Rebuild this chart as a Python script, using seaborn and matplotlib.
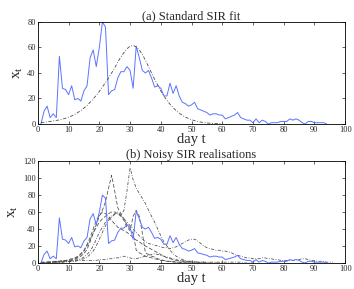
import matplotlib
matplotlib.use("Agg")
import matplotlib.pyplot as plt
import seaborn as sns
import pandas as pd

# observed cases per day (days 1..94)
observed = [0, 10, 14, 5, 8, 5, 53, 28, 27, 23,
            30, 19, 20, 18, 26, 30, 52, 58, 45, 60,
            80, 76, 23, 26, 27, 36, 41, 41, 45, 42,
            28, 61, 52, 42, 40, 42, 36, 29, 30, 28,
            22, 22, 32, 24, 30, 22, 17, 16, 14, 15,
            17, 12, 11, 10, 9, 7, 8, 8, 7, 7,
            4, 5, 6, 7, 9, 5, 4, 3, 3, 1,
            4, 1, 3, 2, 0, 1, 1, 1, 2, 2,
            2, 4, 3, 4, 3, 1, 0, 2, 2, 1,
            1, 1, 1, 0]

# standard SIR fit (days 1..60)
sir_fit = [1, 1.3, 1.7, 2, 2.4, 2.8, 3.2, 3.8, 4.5, 5.3,
           6.3, 7.5, 9, 10.5, 12.5, 14.5, 17, 19.5, 22.5, 25.5,
           29, 32.5, 36, 40, 44, 48.5, 52.5, 56, 59, 61,
           61.5, 60.5, 58, 54.5, 50, 45, 40, 35, 30.5, 26,
           22, 18.5, 15.5, 12.8, 10.5, 8.5, 6.8, 5.4, 4.3, 3.4,
           2.6, 2, 1.5, 1.1, 0.8, 0.6, 0.4, 0.3, 0.2, 0.1]

# noisy SIR realisations
real1 = [0, 0, 1, 1, 1, 1, 1, 2, 2, 3, 3, 4, 6, 8, 11, 16, 25, 35, 45, 55,
         62, 72, 88, 103, 85, 65, 58, 52, 45, 40, 35, 15, 12, 10, 8, 7, 6, 5, 4, 3,
         3, 2, 2, 2, 1, 1, 1, 1, 0, 0]
real2 = [0, 0, 0, 1, 1, 1, 1, 1, 2, 2, 2, 3, 4, 5, 7, 10, 14, 20, 28, 36,
         42, 48, 52, 55, 58, 60, 56, 62, 85, 112, 98, 88, 82, 76, 70, 62, 55, 48, 40, 32,
         25, 20, 15, 11, 8, 6, 4, 3, 2, 2, 1, 1, 1, 1, 0, 0, 0, 0, 0, 0]
real3 = [0, 1, 1, 1, 2, 2, 2, 3, 3, 3, 4, 5, 7, 10, 14, 20, 27, 35, 42, 48,
         52, 55, 58, 60, 60, 58, 55, 50, 42, 38, 55, 62, 55, 35, 12, 10, 8, 7, 5, 4,
         3, 2, 2, 1, 1, 1, 0, 0, 0, 0]
real4 = [1, 1, 1, 1, 1, 2, 2, 2, 2, 2, 2, 2, 3, 3, 3, 3, 3, 3, 3, 4,
         4, 4, 5, 5, 6, 6, 7, 8, 7, 6, 5, 5, 6, 7, 8, 9, 10, 11, 10, 9,
         8, 7, 6, 5, 4, 3, 3, 2, 2, 2, 2, 1, 1, 1, 1, 1, 1, 1, 1, 1,
         1, 1, 1, 1, 1, 1, 0, 0, 0, 0]
real5 = [0, 0, 0, 1, 1, 1, 1, 1, 1, 2, 2, 2, 3, 4, 5, 7, 10, 14, 20, 28,
         36, 44, 50, 54, 57, 58, 56, 52, 48, 44, 40, 36, 32, 28, 25, 23, 22, 21, 20, 19,
         18, 18, 17, 18, 19, 21, 23, 25, 27, 28, 28, 26, 23, 20, 18, 17, 16, 15, 15, 14,
         14, 13, 12, 10, 9, 8, 7, 6, 6, 5, 5, 5, 6, 6, 5, 5, 4, 4, 3, 3,
         3, 3, 3, 4, 4, 5, 5, 4, 3, 3, 2, 2, 2, 1, 1, 1]
real6 = [0, 0, 1, 1, 1, 2, 2, 3, 3, 4, 5, 6, 8, 11, 15, 22, 30, 40, 50, 56,
         60, 58, 55, 50, 46, 42, 40, 38, 36, 33, 30, 27, 25, 22, 20, 18, 16, 14, 12, 10,
         8, 6, 5, 4, 3, 3, 2, 2, 1, 1, 1, 1, 0, 0, 0]
realisations = [(real1, (0, (5, 2.5))), (real2, (0, (4, 2, 1, 2))), (real3, (0, (5, 2.5))),
                (real4, (0, (4, 2, 1, 2))), (real5, (0, (4, 2, 1, 2))), (real6, (0, (5, 2.5)))]

sns.set_style("ticks")
plt.rcParams['font.family'] = ['Liberation Serif', 'DejaVu Serif']
plt.rcParams['mathtext.fontset'] = 'custom'
plt.rcParams['mathtext.rm'] = 'Liberation Serif'
plt.rcParams['mathtext.it'] = 'Liberation Serif:italic'

blue = '#5b73ff'
gray = '#4a4a4a'
fig = plt.figure(figsize=(3.54, 2.89), dpi=100)
ax1 = fig.add_axes([0.107, 0.571, 0.868, 0.353])
ax2 = fig.add_axes([0.107, 0.090, 0.868, 0.353])


def days(vals):
    return list(range(1, len(vals) + 1))


obs_df = pd.DataFrame({'day': days(observed), 'x': observed})
fit_df = pd.DataFrame({'day': days(sir_fit), 'x': sir_fit})

sns.lineplot(data=obs_df, x='day', y='x', ax=ax1, color=blue, lw=0.7)
sns.lineplot(data=fit_df, x='day', y='x', ax=ax1, color=gray, lw=0.6,
             linestyle=(0, (4, 2, 1, 2)))

for vals, ls in realisations:
    d = pd.DataFrame({'day': days(vals), 'x': vals})
    sns.lineplot(data=d, x='day', y='x', ax=ax2, color=gray, lw=0.55,
                 linestyle=ls)
sns.lineplot(data=obs_df, x='day', y='x', ax=ax2, color=blue, lw=0.7)

for ax, ymax, title in [(ax1, 80, '(a) Standard SIR fit'),
                        (ax2, 120, '(b) Noisy SIR realisations')]:
    ax.set_xlim(0, 100)
    ax.set_ylim(0, ymax)
    ax.set_xticks(range(0, 101, 10))
    ax.set_yticks(range(0, ymax + 1, 20))
    ax.tick_params(direction='in', top=True, right=True, labelsize=6,
                   length=2.5, width=0.5, pad=1.5)
    for s in ax.spines.values():
        s.set_linewidth(0.6)
        s.set_color('black')
    ax.set_title(title, fontsize=9, pad=2)
    ax.set_xlabel('day t', fontsize=10.5, labelpad=-1)
    ax.set_ylabel('x$_\\mathrm{t}$', fontsize=11, labelpad=2)

fig.savefig('out.png', dpi=100)
